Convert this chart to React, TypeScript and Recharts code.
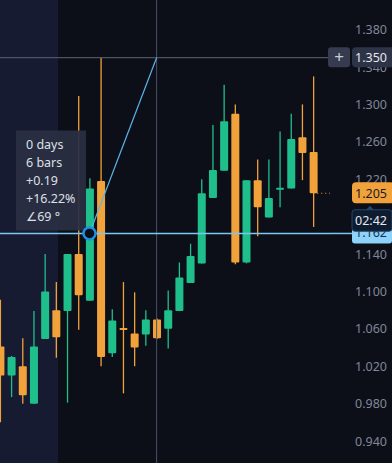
import React from 'react';
import {
  ComposedChart,
  Bar,
  XAxis,
  YAxis,
  ReferenceLine,
  ReferenceArea,
  ReferenceDot,
} from 'recharts';

const bars = [0, 1, 2, 3, 4, 5, 6, 7, 8, 9, 10, 11, 12, 13, 14, 15, 16, 17, 18, 19, 20, 21, 22, 23, 24, 25, 26, 27, 28];
const opens = [1.041, 1.010, 1.020, 0.980, 1.049, 1.080, 1.079, 1.140, 1.090, 1.218, 1.034, 1.061, 1.055, 1.054, 1.070, 1.060, 1.079, 1.109, 1.130, 1.200, 1.229, 1.290, 1.131, 1.219, 1.179, 1.209, 1.210, 1.265, 1.249];
const highs = [1.091, 1.031, 1.050, 1.079, 1.140, 1.110, 1.140, 1.309, 1.221, 1.350, 1.081, 1.110, 1.099, 1.080, 1.071, 1.101, 1.131, 1.151, 1.220, 1.278, 1.321, 1.300, 1.219, 1.241, 1.241, 1.271, 1.290, 1.300, 1.330];
const lows = [0.960, 0.987, 0.980, 0.980, 1.049, 1.029, 0.981, 1.059, 1.090, 1.020, 1.030, 0.991, 1.020, 1.042, 1.049, 1.039, 1.079, 1.109, 1.130, 1.200, 1.229, 1.129, 1.130, 1.159, 1.179, 1.190, 1.210, 1.219, 1.169];
const closes = [1.010, 1.030, 0.989, 1.041, 1.100, 1.051, 1.140, 1.096, 1.210, 1.030, 1.069, 1.060, 1.040, 1.070, 1.050, 1.080, 1.115, 1.138, 1.205, 1.230, 1.282, 1.131, 1.219, 1.190, 1.200, 1.211, 1.263, 1.248, 1.205];

const priceTicks = [0.94, 0.98, 1.02, 1.06, 1.1, 1.14, 1.18, 1.22, 1.26, 1.3, 1.34, 1.38];
const measureLines = ['0 days', '6 bars', '+0.19', '+16.22%', '∠69 °'];

const lastPrice = 1.205;
const countdown = '02:42';
const anchorBar = 8;
const anchorPrice = 1.162;
const cursorBar = 14;
const cursorPrice = 1.35;
const sessionEnd = 5.19;

const GREEN = '#1fbf8c';
const ORANGE = '#f2a23a';
const BG = '#0c0f18';
const FONT = '"Noto Sans", "DejaVu Sans", sans-serif';

const rows = bars.map((i) => ({
  i,
  o: opens[i],
  h: highs[i],
  l: lows[i],
  c: closes[i],
  range: [lows[i], highs[i]],
}));

const Candle = (props: any) => {
  const { x, y, width, height, payload } = props;
  const { o, h, l, c } = payload;
  const k = height / (h - l);
  const yOf = (v: number) => y + (h - v) * k;
  const color = c >= o ? GREEN : ORANGE;
  const top = yOf(Math.max(o, c));
  const bot = yOf(Math.min(o, c));
  const cx = x + width / 2;
  return (
    <g>
      <line x1={cx} x2={cx} y1={y} y2={y + height} stroke={color} strokeWidth={1.3} />
      <rect x={x} y={top} width={width} height={Math.max(bot - top, 2)} fill={color} rx={1} />
    </g>
  );
};

const TAG_X = 352;
const TEXT_X = 387;

// axis labels drawn as reference labels so the price tags can sit over them
const TickLabel = ({ viewBox, value }: any) => (
  <text x={TEXT_X} y={viewBox.y} dy={4.5} textAnchor="end" fontSize={12.5} fill="#80869a" fontFamily={FONT}>
    {value.toFixed(3)}
  </text>
);

// price tag for the last close + the countdown under it
const LastTag = ({ viewBox }: any) => {
  const y = viewBox.y;
  return (
    <g>
      <rect x={TAG_X} y={y - 11} width={42} height={21} rx={4} fill={ORANGE} />
      <text x={TEXT_X} y={y} dy={4.5} textAnchor="end" fontSize={12.5} fill="#151a26" fontFamily={FONT}>
        {lastPrice.toFixed(3)}
      </text>
      <rect x={TAG_X} y={y + 16.5} width={40} height={21.5} rx={3} fill="#0e1c30" stroke="#24476b" />
      <path d={`M${TAG_X + 14} ${y + 16.5} l4 -4 l4 4 z`} fill="#24476b" />
      <text x={TEXT_X} y={y + 27} dy={4.5} textAnchor="end" fontSize={12.5} fill="#e4e8ef" fontFamily={FONT}>
        {countdown}
      </text>
    </g>
  );
};

const AnchorTag = ({ viewBox }: any) => {
  const y = viewBox.y;
  const right = viewBox.x + viewBox.width;
  return (
    <g>
      <line x1={right} x2={TAG_X} y1={y} y2={y} stroke="#7cc6f2" strokeWidth={1.5} />
      <rect x={TAG_X} y={y - 10} width={40} height={20} rx={3} fill="#8ed2fb" />
      <text x={TEXT_X} y={y} dy={4} textAnchor="end" fontSize={12.5} fill="#13324f" fontFamily={FONT}>
        {anchorPrice.toFixed(3)}
      </text>
    </g>
  );
};

const CursorTag = ({ viewBox }: any) => {
  const y = viewBox.y;
  return (
    <g>
      <rect x={328} y={y - 10.5} width={22} height={20} rx={3} fill="#363b4f" />
      <text x={339} y={y} dy={5} textAnchor="middle" fontSize={17} fill="#c9ccd6" fontFamily={FONT}>
        +
      </text>
      <rect x={TAG_X} y={y - 10.5} width={44} height={20} rx={4} fill="#2e3447" />
      <text x={TEXT_X} y={y} dy={4.5} textAnchor="end" fontSize={12.5} fill="#e6e8ee" fontFamily={FONT}>
        {cursorPrice.toFixed(3)}
      </text>
    </g>
  );
};

const Measure = (props: any) => {
  const { cx, cy } = props;
  const bx = cx - 73.5;
  const by = cy - 103;
  return (
    <g>
      <rect x={bx} y={by} width={70} height={100} fill="#2a2f42" fillOpacity={0.94} />
      {measureLines.map((t, k) => (
        <text key={t} x={bx + 10} y={by + 14 + 18 * k} dy={4.5} fontSize={12.5} fill="#dde0e7" fontFamily={FONT}>
          {t}
        </text>
      ))}
      <circle cx={cx} cy={cy} r={6} fill={BG} stroke="#1f8fe0" strokeWidth={2.5} />
    </g>
  );
};

export default function App() {
  return (
    <div style={{ position: 'absolute', left: 0, top: 0, width: 392, height: 463, background: BG }}>
      <ComposedChart
        width={392}
        height={463}
        data={rows}
        margin={{ top: 0, right: 0, bottom: 0, left: 0 }}
        style={{ background: BG, fontFamily: FONT }}
      >
        <XAxis hide type="number" dataKey="i" domain={[0, 29.5]} allowDataOverflow />
        <YAxis
          orientation="right"
          width={62}
          type="number"
          domain={[0.9165, 1.4117]}
          allowDataOverflow
          ticks={priceTicks}
          axisLine={false}
          tickLine={false}
          tick={false}
        />
        <ReferenceArea x1={0} x2={sessionEnd} y1={0.9165} y2={1.4117} fill="#161b31" fillOpacity={1} stroke="none" />
        <ReferenceLine x={cursorBar} stroke="#4c5266" strokeWidth={1} />
        {priceTicks.map((t) => (
          <ReferenceLine key={t} y={t} stroke="none" label={<TickLabel value={t} />} />
        ))}
        <ReferenceLine y={cursorPrice} stroke="#5c6278" strokeWidth={1} label={<CursorTag />} />
        <ReferenceLine
          segment={[{ x: 28, y: lastPrice }, { x: 29.5, y: lastPrice }]}
          stroke={ORANGE}
          strokeDasharray="1 3"
        />
        <Bar dataKey="range" barSize={8} shape={<Candle />} isAnimationActive={false} />
        <ReferenceLine y={anchorPrice} stroke="#7cc6f2" strokeWidth={1.5} label={<AnchorTag />} />
        <ReferenceLine y={lastPrice} stroke="none" label={<LastTag />} />
        <ReferenceLine
          segment={[{ x: anchorBar, y: anchorPrice }, { x: cursorBar, y: cursorPrice }]}
          stroke="#5ab4e8"
          strokeWidth={1.2}
        />
        <ReferenceDot x={anchorBar} y={anchorPrice} r={6} shape={<Measure />} />
      </ComposedChart>
    </div>
  );
}
